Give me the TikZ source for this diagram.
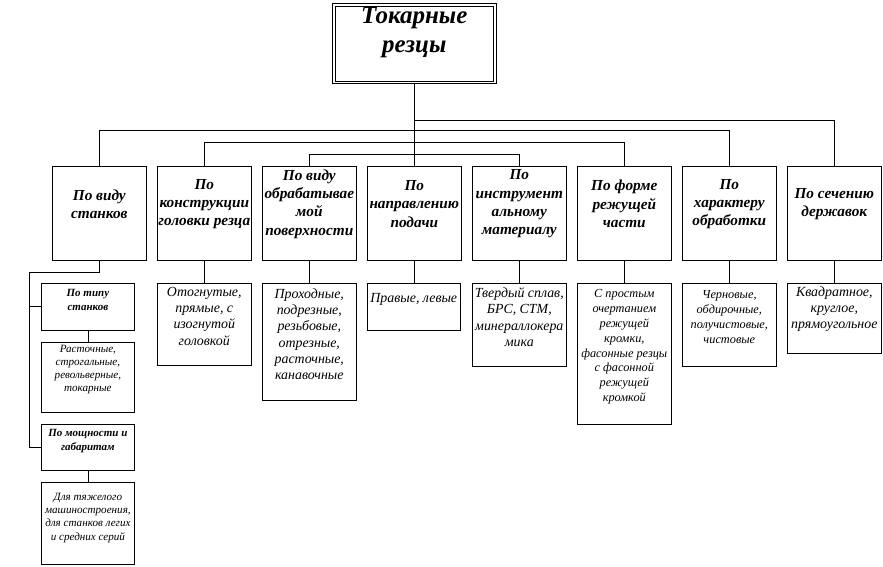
\documentclass[tikz,border=0pt]{standalone}
\usepackage{fontspec}
\setmainfont{Liberation Serif}
\begin{document}
\begin{tikzpicture}[x=1pt,y=-1pt,
  conn/.style={line width=0.8pt},
  boxn/.style={draw, line width=0.8pt, inner sep=0pt, minimum width=94pt},
  lbox/.style={draw, line width=0.8pt, inner sep=0pt, minimum width=92.3pt},
  ttl/.style={align=center, inner sep=0pt, font=\fontsize{25}{28.4}\selectfont\bfseries\itshape},
  headtxt/.style={align=center, inner sep=0pt, font=\fontsize{15.3}{18.3}\selectfont\bfseries\itshape},
  txtA/.style={align=center, inner sep=0pt, font=\fontsize{13.9}{16.3}\selectfont\itshape},
  txtB/.style={align=center, inner sep=0pt, font=\fontsize{12.3}{14.8}\selectfont\itshape},
  headS/.style={align=center, inner sep=0pt, font=\fontsize{11}{14}\selectfont\bfseries\itshape},
  txtS/.style={align=center, inner sep=0pt, font=\fontsize{11.1}{13.3}\selectfont\itshape}
]
\useasboundingbox (0,0) rectangle (883,566);

% title
\node[draw, line width=0.8pt, inner sep=0pt,
      minimum width=163.4pt, minimum height=80pt] (T) at (414.3,43.5) {};
\draw[line width=0.8pt] ([shift={(2.8,2.8)}]T.north west) rectangle ([shift={(-2.8,-2.8)}]T.south east);
\node[ttl] (Tt) at (414.3,32.5) {Токарные\\резцы};

% headers
\node[boxn, minimum height=94pt] (h1) at (99.3,213) {};
\node[boxn, minimum height=94pt] (h2) at (204.3,213) {};
\node[boxn, minimum height=94pt] (h3) at (309.3,213) {};
\node[boxn, minimum height=94pt] (h4) at (414.3,213) {};
\node[boxn, minimum height=94pt] (h5) at (519.3,213) {};
\node[boxn, minimum height=94pt] (h6) at (624.3,213) {};
\node[boxn, minimum height=94pt] (h7) at (729.3,213) {};
\node[boxn, minimum height=94pt] (h8) at (834.3,213) {};

\node[headtxt] (t1) at (99.3,204) {По виду\\станков};
\node[headtxt] (t2) at (204.3,204) {По\\конструкции\\головки резца};
\node[headtxt] (t3) at (309.3,204) {По виду\\обрабатывае\\мой\\поверхности};
\node[headtxt] (t4) at (414.3,204) {По\\направлению\\подачи};
\node[headtxt] (t5) at (519.3,204) {По\\инструмент\\альному\\материалу};
\node[headtxt] (t6) at (624.3,204) {По форме\\режущей\\части};
\node[headtxt] (t7) at (729.3,204) {По\\характеру\\обработки};
\node[headtxt] (t8) at (834.3,204) {По сечению\\державок};

% lower boxes
\node[boxn, minimum height=81.7pt] (b2) at (204.3,324.2) {};
\node[boxn, minimum height=116.7pt] (b3) at (309.3,341.7) {};
\node[boxn, minimum height=46.7pt, minimum width=93pt] (b4) at (414.3,306.7) {};
\node[boxn, minimum height=82.7pt] (b5) at (519.3,324.7) {};
\node[boxn, minimum height=140.7pt] (b6) at (624.3,353.7) {};
\node[boxn, minimum height=82.7pt] (b7) at (729.3,324.7) {};
\node[boxn, minimum height=69.7pt] (b8) at (834.3,318.2) {};

\node[txtA] (s2) at (204.3,316.2) {Отогнутые,\\прямые, с\\изогнутой\\головкой};
\node[txtA] (s3) at (309.3,334.2) {Проходные,\\подрезные,\\резьбовые,\\отрезные,\\расточные,\\канавочные};
\node[txtA] (s4) at (413.8,299.3) {Правые, левые};
\node[txtA] (s5) at (519.3,317.2) {Твердый сплав,\\БРС, СТМ,\\минераллокера\\мика};
\node[txtB] (s6) at (624.3,346.9) {С простым\\очертанием\\режущей\\кромки,\\фасонные резцы\\с фасонной\\режущей\\кромкой};
\node[txtB] (s7) at (729.3,317.2) {Черновые,\\обдирочные,\\получистовые,\\чистовые};
\node[txtA] (s8) at (834.3,309.2) {Квадратное,\\круглое,\\прямоугольное};

% left column
\node[lbox, minimum height=46.7pt] (l1) at (87.9,306.7) {};
\node[lbox, minimum height=69.7pt] (l2) at (87.9,377.2) {};
\node[lbox, minimum height=46pt] (l3) at (87.9,447) {};
\node[lbox, minimum height=82pt] (l4) at (87.9,523) {};

\node[headS] (u1) at (87.9,299.5) {По типу\\станков};
\node[txtS] (u2) at (87.9,369.5) {Расточные,\\строгальные,\\револьверные,\\токарные};
\node[headS] (u3) at (87.9,441) {По мощности и\\габаритам};
\node[txtS] (u4) at (87.9,517.7) {Для тяжелого\\машиностроения,\\для станков легих\\и средних серий};

% connectors
\draw[conn] (T.south) -- (h4.north);
\coordinate (j8) at (414.3,120.3);
\draw[conn] (j8) -| (h8.north);
\draw[conn] (h1.north) -- ++(0,-35) -| (h7.north);
\draw[conn] (h2.north) -- ++(0,-23) -| (h6.north);
\draw[conn] (h3.north) -- ++(0,-11) -| (h5.north);

\draw[conn] (h2.south) -- (b2.north);
\draw[conn] (h3.south) -- (b3.north);
\draw[conn] (h4.south) -- (b4.north);
\draw[conn] (h5.south) -- (b5.north);
\draw[conn] (h6.south) -- (b6.north);
\draw[conn] (h7.south) -- (b7.north);
\draw[conn] (h8.south) -- (b8.north);

\draw[conn] (h1.south) -- ++(0,12) -| ([xshift=-11.75pt]l3.west) -- (l3.west);
\draw[conn] ([xshift=-11.75pt]l1.west) -- (l1.west);
\draw[conn] (l1.south) -- (l2.north);
\draw[conn] (l3.south) -- (l4.north);
\end{tikzpicture}
\end{document}
